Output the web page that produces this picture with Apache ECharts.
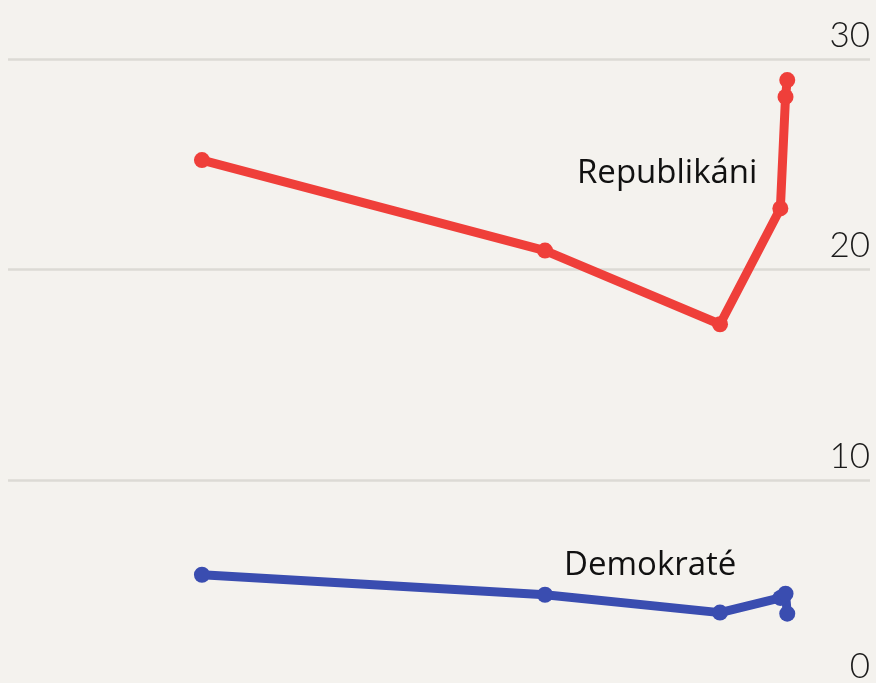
<!DOCTYPE html>
<html><head><meta charset="utf-8">
<script src="https://cdn.jsdelivr.net/npm/echarts@6/dist/echarts.min.js"></script>
<style>html,body{margin:0;padding:0;background:#f4f2ee;overflow:hidden;}#c{width:876px;height:691px;}</style>
</head><body><div id="c"></div>
<script>
// x positions (time, arbitrary units along hidden axis)
var xs = [22.5, 62.3, 82.6, 89.6, 90.2, 90.4];
var republikani = [25.2, 20.9, 17.4, 22.9, 28.2, 29.0];
var demokrate = [5.5, 4.55, 3.7, 4.4, 4.6, 3.65];
var yTicks = [0, 10, 20, 30];
var seriesNames = ['Republikáni', 'Demokraté'];

function pairs(vals){ return vals.map(function(v,i){ return [xs[i], v]; }); }

var chart = echarts.init(document.getElementById('c'), null, {renderer:'canvas'});
chart.setOption({
  backgroundColor: '#f4f2ee',
  animation: false,
  grid: {left: 8, right: 6, top: 59, bottom: 0.5, containLabel: false},
  xAxis: {type: 'value', min: 0, max: 100, show: false},
  yAxis: {
    type: 'value', position: 'right', min: yTicks[0], max: yTicks[yTicks.length-1], interval: 10,
    axisLine: {show: false}, axisTick: {show: false},
    splitLine: {show: true, lineStyle: {color: '#dcdad5', width: 2.5}},
    axisLabel: {inside: true, margin: 0, verticalAlign: 'bottom', padding: [0,0,6,0],
      fontFamily: 'Lato', fontWeight: 300, fontSize: 35, color: '#1a1a1a'}
  },
  series: [
    {name: seriesNames[0], type: 'line', data: pairs(republikani), symbol: 'circle', symbolSize: 16,
     lineStyle: {color: '#ef3f3a', width: 9}, itemStyle: {color: '#ef3f3a'}, clip: false, z: 3},
    {name: seriesNames[1], type: 'line', data: pairs(demokrate), symbol: 'circle', symbolSize: 16,
     lineStyle: {color: '#3a4db0', width: 9}, itemStyle: {color: '#3a4db0'}, clip: false, z: 3}
  ],
  graphic: [
    {type: 'text', left: 577, top: 157, style: {text: seriesNames[0], font: '500 33px "Open Sans"', fill: '#111'}},
    {type: 'text', left: 564, top: 549, style: {text: seriesNames[1], font: '500 33px "Open Sans"', fill: '#111'}}
  ]
});
</script></body></html>
